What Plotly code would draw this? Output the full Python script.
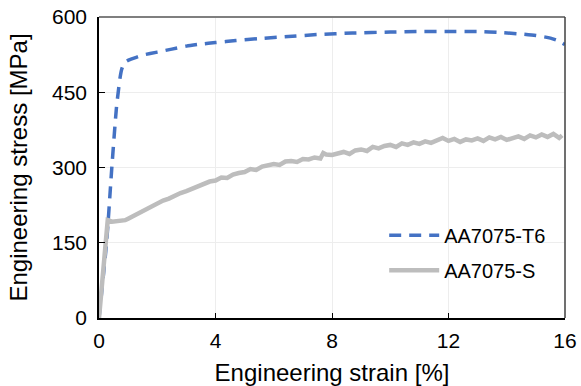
import plotly.graph_objects as go

# ---- data ----
t6_strain = [0, 0.26, 0.44, 0.6, 0.66, 0.72, 0.78, 0.85, 0.95, 1.1, 1.3, 1.5, 2.0, 2.5, 3.0, 3.5,
             4.0, 4.7, 5.5, 6.5, 7.5, 8.7, 10.0, 11.0, 12.0, 13.0, 13.8, 14.5, 15.0, 15.5, 15.8, 16.0]
t6_stress = [0, 150, 300, 420, 450, 478, 496, 506, 512, 516, 520, 524, 530, 536, 542, 546,
             549, 553, 557, 561, 565, 568, 570, 571, 571, 571, 569, 566, 563, 558, 552, 545]

s_strain = [0.0, 0.3, 0.45, 0.6, 0.75, 0.9, 1.0, 1.2, 1.4, 1.6, 1.8, 2.0, 2.2, 2.4, 2.6, 2.8,
            3.0, 3.2, 3.4, 3.6, 3.8, 4.0, 4.2, 4.4, 4.6, 4.8, 5.0, 5.2, 5.4, 5.6, 5.8,
            6.0, 6.2, 6.4, 6.6, 6.8, 7.0, 7.2, 7.4, 7.6, 7.7, 7.8, 8.0, 8.2, 8.4, 8.6, 8.8,
            9.0, 9.2, 9.4, 9.6, 9.8, 10.0, 10.2, 10.4, 10.6, 10.8, 11.0, 11.2, 11.4, 11.6, 11.8,
            12.0, 12.2, 12.4, 12.6, 12.8, 13.0, 13.2, 13.4, 13.6, 13.8, 14.0, 14.2, 14.4, 14.6,
            14.8, 15.0, 15.2, 15.4, 15.6, 15.8, 15.9]
s_stress = [0, 195, 192, 193, 192, 195, 198, 204, 211, 217, 223, 229, 234, 238, 244, 249,
            253, 258, 261, 266, 272, 274, 280, 279, 286, 289, 291, 297, 295, 302, 304,
            307, 305, 312, 313, 311, 317, 316, 320, 318, 329, 326, 325, 328, 331, 327, 334,
            336, 333, 341, 338, 343, 345, 341, 348, 345, 350, 347, 352, 349, 355, 359,
            353, 357, 351, 356, 354, 358, 353, 360, 356, 361, 355, 359, 362, 357,
            364, 360, 366, 361, 367, 359, 364]

x_ticks = [0, 4, 8, 12, 16]
y_ticks = [0, 150, 300, 450, 600]

FONT = "Liberation Sans, Arial, sans-serif"

fig = go.Figure()
fig.add_trace(go.Scatter(
    x=t6_strain, y=t6_stress, mode="lines", name="AA7075-T6", legendgroup="a",
    line=dict(color="#4472C4", width=3.5, dash="12px,8px", shape="spline", smoothing=0.6),
))
fig.add_trace(go.Scatter(
    x=s_strain, y=s_stress, mode="lines", name="AA7075-S", legendgroup="b",
    line=dict(color="#BDBDBD", width=4.5),
))

fig.update_layout(
    width=581, height=386, autosize=False,
    margin=dict(l=99, r=16, t=17, b=68, autoexpand=False),
    paper_bgcolor="white", plot_bgcolor="white",
    font=dict(family=FONT, size=20, color="black"),
    showlegend=True,
    legend=dict(
        x=0.612, y=0.34, xanchor="left", yanchor="top", itemwidth=50,
        font=dict(size=20, family=FONT, color="black"),
        bgcolor="rgba(255,255,255,0)", tracegroupgap=6, traceorder="grouped",
    ),
    xaxis=dict(
        range=[0, 16], tickvals=x_ticks, ticks="inside", ticklen=5, tickcolor="black",
        showline=True, linecolor="black", linewidth=1.5, automargin=False,
        showgrid=True, gridcolor="#EDEDED", gridwidth=1, zeroline=False,
        ticklabelstandoff=3,
        title=dict(text="Engineering strain [%]", font=dict(size=24), standoff=14),
        tickfont=dict(size=21),
    ),
    yaxis=dict(
        range=[0, 600], tickvals=y_ticks, ticks="inside", ticklen=6, tickcolor="black",
        showline=True, linecolor="black", linewidth=1.5, automargin=False,
        showgrid=True, gridcolor="#EDEDED", gridwidth=1, zeroline=False,
        ticklabelstandoff=6,
        title=dict(text="Engineering stress [MPa]", font=dict(size=24), standoff=18),
        tickfont=dict(size=21),
    ),
    shapes=[
        dict(type="line", xref="paper", yref="paper", x0=0, x1=1, y0=1, y1=1,
             line=dict(color="#7F7F7F", width=2)),
        dict(type="line", xref="paper", yref="paper", x0=1, x1=1, y0=0, y1=1,
             line=dict(color="#404040", width=1.5)),
    ],
)

fig.write_html("out.html")
